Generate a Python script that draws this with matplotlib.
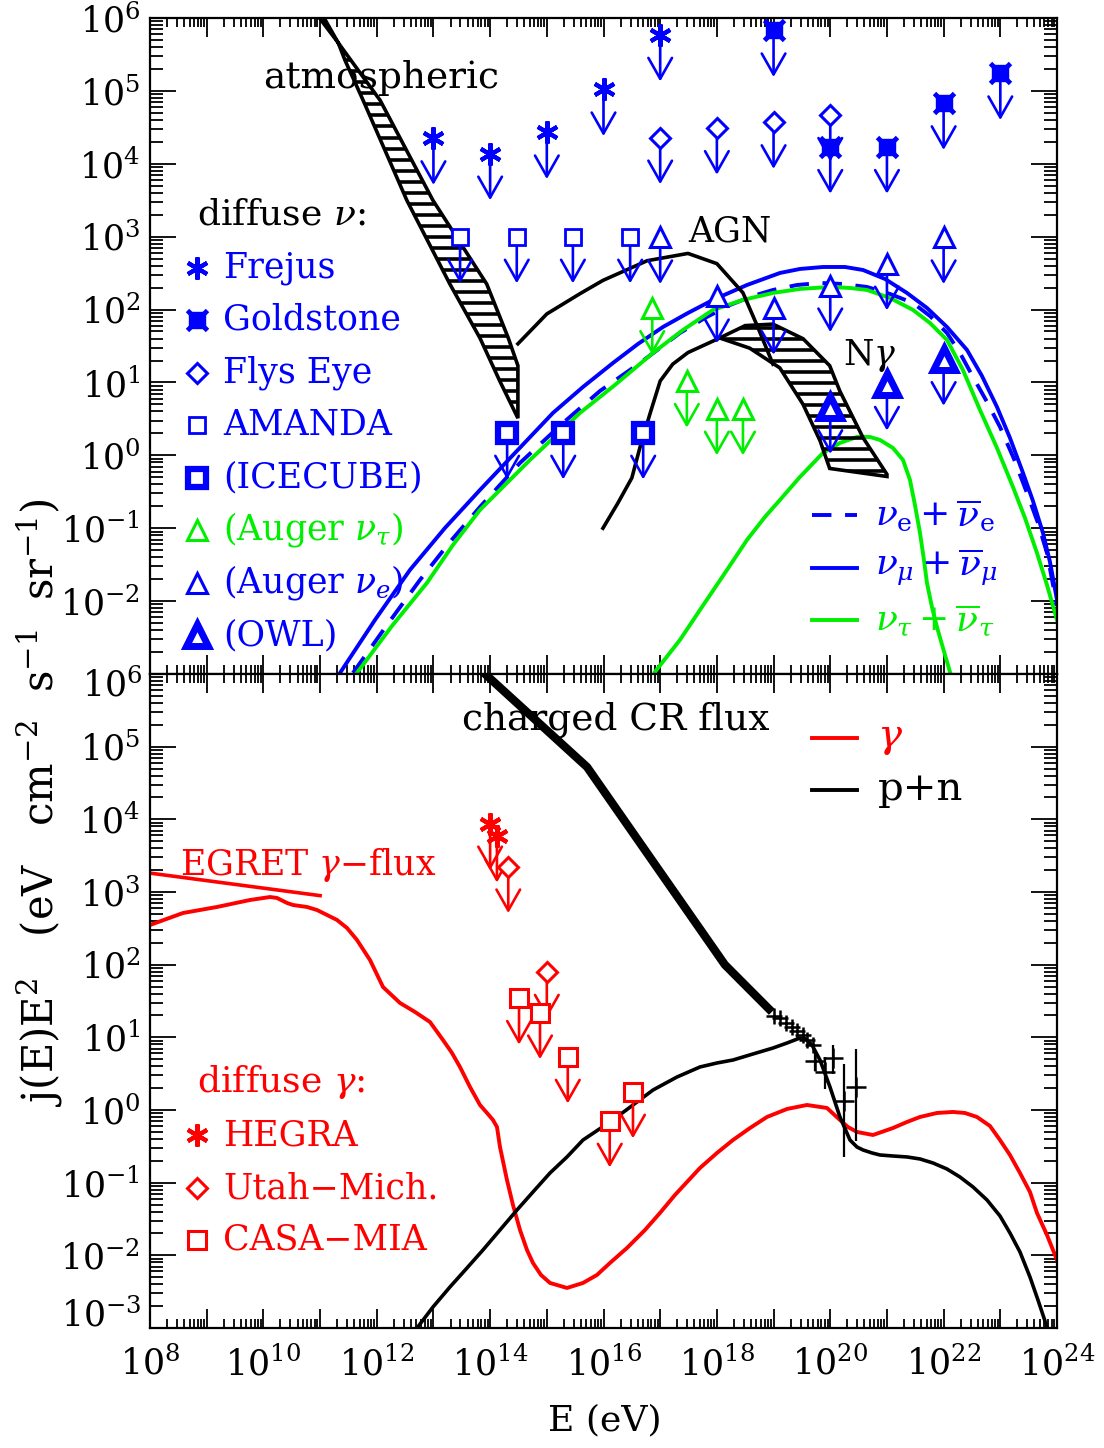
import numpy as np
import matplotlib
matplotlib.use('Agg')
import matplotlib.pyplot as plt
from matplotlib.patches import Polygon
from matplotlib.ticker import FixedLocator, LogLocator, FuncFormatter, NullFormatter

plt.rcParams['font.family'] = ['DejaVu Serif']
plt.rcParams['mathtext.fontset'] = 'dejavuserif'

BLUE, GREEN, RED = '#0000ff', '#00ee00', '#ff0000'

# ---------------- top panel: diffuse neutrinos (log10 E/eV, log10 flux) ----------------
atm_a_logE = [11.05, 11.32, 11.44, 11.76, 12.53, 13.29, 13.82, 14.17, 14.49]
atm_a_logF = [6.03, 5.66, 5.42, 4.87, 3.50, 2.35, 1.61, 1.02, 0.51]
atm_b_logE = [10.96, 11.32, 12.06, 12.99, 13.94, 14.32, 14.49, 14.49]
atm_b_logF = [6.03, 5.66, 4.87, 3.50, 2.35, 1.61, 1.23, 0.51]

agn_logE = [14.49, 15.00, 15.59, 15.99, 16.77, 17.49, 18.00, 18.46, 18.71, 18.99]
agn_logF = [1.53, 1.94, 2.22, 2.40, 2.67, 2.77, 2.63, 2.23, 1.78, 1.25]

ngam_logE = [15.99, 16.25, 16.50, 16.64, 16.82, 17.00, 17.22, 17.49, 18.05]
ngam_logF = [-1.00, -0.66, -0.31, 0.10, 0.57, 1.02, 1.25, 1.41, 1.61]
ngam_hi_logE = [18.05, 18.50, 18.99, 19.52, 19.99, 20.17, 20.58, 21.00]
ngam_hi_logF = [1.61, 1.78, 1.80, 1.60, 1.23, 0.88, 0.24, -0.26]
ngam_lo_logE = [18.05, 18.58, 19.11, 19.52, 19.82, 19.99, 21.00]
ngam_lo_logF = [1.61, 1.47, 1.20, 0.70, 0.20, -0.18, -0.29]

numu_logE = [11.352, 11.969, 12.586, 13.204, 13.821, 14.439, 15.109, 15.638, 16.167, 16.608,
             17.049, 17.490, 17.931, 18.531, 19.113, 19.466, 19.872, 20.260, 20.577, 20.965,
             21.353, 21.706, 22.059, 22.412, 22.676, 22.941, 23.170, 23.400, 23.576, 23.752,
             23.876, 24.0]
numu_logF = [-2.985, -2.258, -1.572, -0.996, -0.475, 0.033, 0.582, 0.938, 1.267, 1.528,
             1.761, 1.953, 2.132, 2.337, 2.502, 2.557, 2.584, 2.584, 2.543, 2.420,
             2.228, 2.022, 1.761, 1.446, 1.089, 0.664, 0.239, -0.241, -0.626, -1.064,
             -1.462, -1.984]
nue_logE = [11.581, 12.181, 12.763, 13.292, 13.821, 14.527, 15.285, 15.938, 16.643, 17.349,
            17.790, 18.231, 18.637, 18.990, 19.413, 19.819, 20.224, 20.648, 21.054, 21.459,
            21.759, 22.059, 22.288, 22.518, 22.765, 22.994, 23.241, 23.470, 23.664, 23.823,
            24.0]
nue_logF = [-2.985, -2.327, -1.709, -1.188, -0.708, -0.104, 0.444, 0.883, 1.267, 1.679,
            1.885, 2.063, 2.187, 2.269, 2.337, 2.365, 2.351, 2.310, 2.214, 2.091,
            1.912, 1.679, 1.405, 1.075, 0.733, 0.390, -0.049, -0.516, -0.927, -1.339,
            -2.066]
nutau_logE = [11.651, 12.269, 12.886, 13.345, 13.821, 14.703, 15.585, 16.203, 16.873, 17.402,
              17.931, 18.460, 18.990, 19.466, 19.995, 20.348, 20.648, 21.054, 21.459, 21.759,
              22.059, 22.341, 22.641, 22.941, 23.223, 23.435, 23.647, 23.823, 24.0]
nutau_logF = [-2.985, -2.340, -1.750, -1.229, -0.749, -0.063, 0.582, 0.966, 1.405, 1.720,
              1.995, 2.132, 2.228, 2.283, 2.310, 2.296, 2.269, 2.159, 1.995, 1.816,
              1.583, 1.171, 0.623, 0.101, -0.434, -0.859, -1.339, -1.778, -2.258]
nutau2_logE = [16.908, 17.349, 17.702, 18.143, 18.531, 18.848, 19.113, 19.466, 19.872, 20.171,
               20.471, 20.701, 20.877, 21.106, 21.283, 21.406, 21.494, 21.583, 21.653, 21.706,
               21.794, 21.882, 21.988, 22.112]
nutau2_logF = [-2.971, -2.532, -2.121, -1.613, -1.161, -0.845, -0.612, -0.296, 0.033, 0.170,
               0.252, 0.252, 0.211, 0.101, -0.063, -0.337, -0.680, -1.064, -1.435, -1.750,
               -2.080, -2.354, -2.642, -2.971]

frejus_logE = [13, 14, 15, 16, 17]
frejus_logF = [4.35, 4.14, 4.43, 5.02, 5.77]
goldstone_logE = [19, 20, 21, 22, 23]
goldstone_logF = [5.83, 4.23, 4.23, 4.83, 5.24]
flyseye_logE = [17, 18, 19, 20]
flyseye_logF = [4.36, 4.49, 4.57, 4.67]
amanda_logE = [13.47, 14.47, 15.46, 16.47]
amanda_logF = [3.0, 3.0, 3.0, 3.0]
icecube_logE = [14.30, 15.29, 16.70]
icecube_logF = [0.31, 0.31, 0.31]
augtau_logE = [16.86, 17.47, 18.00, 18.46]
augtau_logF = [2.02, 1.02, 0.64, 0.64]
auge_logE = [17, 18, 19, 20, 21, 22]
auge_logF = [2.99, 2.18, 2.02, 2.33, 2.63, 2.99]
owl_logE = [20, 21, 22]
owl_logF = [0.66, 0.98, 1.32]

# ---------------- bottom panel: gamma and nucleon fluxes ----------------
cr_logE = [13.87, 15.71, 18.14, 18.97]
cr_logF = [6.03, 4.72, 2.00, 1.35]

pn_logE = [12.710, 12.992, 13.292, 13.592, 13.874, 14.174, 14.474, 14.756, 15.056, 15.356,
           15.638, 15.903, 16.167, 16.520, 16.873, 17.296, 17.702, 18.002, 18.284, 18.637,
           18.990, 19.237, 19.466, 19.572, 19.678, 19.819, 19.995, 20.171, 20.348, 20.471,
           20.577, 20.736, 20.877, 21.106, 21.353, 21.583, 21.812, 22.059, 22.288, 22.518,
           22.765, 22.994, 23.170, 23.347, 23.523, 23.664, 23.823]
pn_logF = [-3.0, -2.711, -2.435, -2.174, -1.926, -1.651, -1.376, -1.128, -0.867, -0.646,
           -0.413, -0.275, -0.137, 0.069, 0.275, 0.454, 0.592, 0.647, 0.688, 0.771,
           0.853, 0.922, 0.991, 0.977, 0.895, 0.688, 0.317, -0.096, -0.413, -0.509,
           -0.550, -0.591, -0.619, -0.633, -0.646, -0.674, -0.729, -0.812, -0.922, -1.059,
           -1.238, -1.458, -1.692, -1.954, -2.298, -2.614, -2.986]

gam_logE = [8.000, 8.582, 9.182, 9.764, 10.117, 10.240, 10.417, 10.523, 10.769, 10.946,
            11.122, 11.299, 11.475, 11.651, 11.881, 12.110, 12.410, 12.675, 12.939, 13.168,
            13.327, 13.468, 13.645, 13.821, 13.945, 14.050, 14.121, 14.174, 14.297, 14.403,
            14.527, 14.650, 14.756, 14.897, 15.056, 15.356, 15.638, 15.885, 16.114, 16.414,
            16.732, 16.996, 17.261, 17.702, 18.002, 18.284, 18.584, 18.884, 19.237, 19.589,
            19.942, 20.171, 20.312, 20.471, 20.754, 21.106, 21.353, 21.583, 21.882, 22.165,
            22.376, 22.588, 22.818, 22.994, 23.170, 23.347, 23.523, 23.647, 23.823, 24.0]
gam_logF = [2.546, 2.711, 2.794, 2.890, 2.931, 2.918, 2.849, 2.821, 2.794, 2.752,
            2.684, 2.615, 2.505, 2.340, 2.064, 1.693, 1.473, 1.349, 1.211, 0.964,
            0.785, 0.592, 0.317, 0.069, -0.041, -0.137, -0.234, -0.509, -0.963, -1.307,
            -1.651, -1.926, -2.105, -2.270, -2.380, -2.449, -2.380, -2.270, -2.105, -1.899,
            -1.651, -1.417, -1.169, -0.798, -0.591, -0.413, -0.248, -0.096, 0.014, 0.069,
            0.028, -0.137, -0.234, -0.302, -0.344, -0.248, -0.165, -0.096, -0.041, -0.027,
            -0.041, -0.096, -0.220, -0.413, -0.619, -0.867, -1.128, -1.417, -1.720, -2.064]

egret_logE = [8.0, 11.0]
egret_logF = [3.26, 2.95]

hegra_logE = [14.0, 14.12]
hegra_logF = [3.94, 3.77]
utah_logE = [14.32, 15.0]
utah_logF = [3.35, 1.90]
casa_logE = [14.51, 14.88, 15.37, 16.11, 16.52]
casa_logF = [1.54, 1.34, 0.73, -0.15, 0.25]

crdata_small_logE = [19.01, 19.11, 19.22, 19.32, 19.41, 19.52, 19.59, 19.70]
crdata_small_logF = [1.30, 1.26, 1.20, 1.14, 1.09, 1.03, 0.97, 0.90]
crdata_logE = [19.73, 19.91, 20.05, 20.24, 20.45]
crdata_logF = [0.68, 0.52, 0.72, 0.12, 0.32]
crdata_up = [0.14, 0.21, 0.18, 0.51, 0.52]
crdata_dn = [0.14, 0.23, 0.22, 0.76, 0.74]

ARROW = 0.64  # length of the upper-limit arrows, decades


def p10(a):
    return 10.0 ** np.asarray(a, dtype=float)


def band(ax, xa, ya, xb, yb, step=0.151):
    xs = np.concatenate([xa, xb[::-1]])
    ys = np.concatenate([ya, yb[::-1]])
    poly = Polygon(np.column_stack([p10(xs), p10(ys)]), closed=True, fill=False,
                   ec='k', lw=2.6, zorder=3)
    ax.add_patch(poly)
    for ly in np.arange(min(ys) + step / 2, max(ys), step):
        ln, = ax.plot(p10([min(xs), max(xs)]), p10([ly, ly]), color='k', lw=2.6, zorder=3)
        ln.set_clip_path(poly)


def limits(ax, lx, ly, color):
    for x, y in zip(lx, ly):
        ax.annotate('', xy=(10.0 ** x, 10.0 ** (y - ARROW)), xytext=(10.0 ** x, 10.0 ** y),
                    arrowprops=dict(arrowstyle='->,head_length=15,head_width=8.5',
                                    mutation_scale=1, color=color, lw=1.9,
                                    shrinkA=0, shrinkB=0), zorder=4)


def mark(ax, lx, ly, style):
    ax.plot(p10(lx), p10(ly), ls='none', zorder=5, **style)


sty_frejus = dict(marker=(6, 2, 0), ms=16, mew=3, color=BLUE)
sty_gold = dict(marker='s', ms=12, mew=1, color=BLUE)
sty_gold_x = dict(marker='x', ms=15, mew=3.5, color=BLUE)
sty_fly = dict(marker='D', ms=10, mew=2.2, color=BLUE, mfc='white')
sty_amanda = dict(marker='s', ms=11.5, mew=2.0, color=BLUE, mfc='white')
sty_ice = dict(marker='s', ms=13, mew=4.5, color=BLUE, mfc='white')
sty_augtau = dict(marker='^', ms=14, mew=2.2, color=GREEN, mfc='white')
sty_auge = dict(marker='^', ms=14, mew=2.2, color=BLUE, mfc='white')
sty_owl = dict(marker='^', ms=16, mew=5, color=BLUE, mfc='white')
sty_hegra = dict(marker=(6, 2, 0), ms=16, mew=3, color=RED)
sty_utah = dict(marker='D', ms=10, mew=2.2, color=RED, mfc='white')
sty_casa = dict(marker='s', ms=13, mew=2.2, color=RED, mfc='white')

fig = plt.figure(figsize=(11.04, 14.48), dpi=100)
L, W = 150 / 1104, 907 / 1104
ax1 = fig.add_axes([L, 1 - 674 / 1448, W, 656 / 1448])
ax2 = fig.add_axes([L, 1 - 1328 / 1448, W, 654 / 1448])

TICKFS = 25
for ax in (ax1, ax2):
    ax.set_xscale('log')
    ax.set_yscale('log')
    ax.set_xlim(1e8, 1e24)
    ax.set_ylim(1e-3, 1e6)
    ax.xaxis.set_major_locator(FixedLocator(10.0 ** np.arange(8, 25)))
    ax.xaxis.set_minor_locator(LogLocator(base=10, subs=np.arange(2, 10), numticks=100))
    ax.yaxis.set_major_locator(FixedLocator(10.0 ** np.arange(-3, 7)))
    ax.yaxis.set_minor_locator(LogLocator(base=10, subs=np.arange(2, 10), numticks=100))
    ax.xaxis.set_minor_formatter(NullFormatter())
    ax.yaxis.set_minor_formatter(NullFormatter())
    ax.tick_params(which='both', direction='in', top=True, right=True, width=1.3,
                   labelsize=TICKFS)
    ax.tick_params(axis='y', which='major', length=19, pad=7)
    ax.tick_params(axis='y', which='minor', length=9.5)
    ax.tick_params(axis='x', which='major', length=14, pad=13)
    ax.tick_params(axis='x', which='minor', length=6.5)
    for s in ax.spines.values():
        s.set_linewidth(1.6)


def yfmt(shown):
    def f(v, p):
        n = int(round(np.log10(v)))
        return r'$10^{%d}$' % n if n in shown else ''
    return FuncFormatter(f)


ax1.yaxis.set_major_formatter(yfmt(range(-2, 7)))
ax2.yaxis.set_major_formatter(yfmt(range(-2, 6)))
ax1.xaxis.set_major_formatter(NullFormatter())
ax2.xaxis.set_major_formatter(FuncFormatter(
    lambda v, p: r'$10^{%d}$' % round(np.log10(v)) if round(np.log10(v)) % 2 == 0 else ''))
fig.text(142 / 1104, 1 - 686 / 1448, r'$10^{6}$', ha='right', va='center', fontsize=TICKFS)
fig.text(142 / 1104, 1 - 1316 / 1448, r'$10^{-3}$', ha='right', va='center', fontsize=TICKFS)

# ---- top panel drawing ----
band(ax1, atm_a_logE, atm_a_logF, atm_b_logE, atm_b_logF)
band(ax1, ngam_hi_logE, ngam_hi_logF, ngam_lo_logE, ngam_lo_logF)
ax1.plot(p10(agn_logE), p10(agn_logF), color='k', lw=2.6, zorder=3)
ax1.plot(p10(ngam_logE), p10(ngam_logF), color='k', lw=2.6, zorder=3)
ax1.plot(p10(numu_logE), p10(numu_logF), color=BLUE, lw=2.8, zorder=2)
ax1.plot(p10(nue_logE), p10(nue_logF), color=BLUE, lw=2.8, ls=(0, (5, 3.5)), zorder=2)
ax1.plot(p10(nutau_logE), p10(nutau_logF), color=GREEN, lw=2.8, zorder=2)
ax1.plot(p10(nutau2_logE), p10(nutau2_logF), color=GREEN, lw=2.8, zorder=2)

for lx, ly, col in [(frejus_logE, frejus_logF, BLUE), (goldstone_logE, goldstone_logF, BLUE),
                    (flyseye_logE, flyseye_logF, BLUE), (amanda_logE, amanda_logF, BLUE),
                    (icecube_logE, icecube_logF, BLUE), (augtau_logE, augtau_logF, GREEN),
                    (auge_logE, auge_logF, BLUE), (owl_logE, owl_logF, BLUE)]:
    limits(ax1, lx, ly, col)
mark(ax1, frejus_logE, frejus_logF, sty_frejus)
mark(ax1, goldstone_logE, goldstone_logF, sty_gold)
mark(ax1, goldstone_logE, goldstone_logF, sty_gold_x)
mark(ax1, flyseye_logE, flyseye_logF, sty_fly)
mark(ax1, amanda_logE, amanda_logF, sty_amanda)
mark(ax1, icecube_logE, icecube_logF, sty_ice)
mark(ax1, augtau_logE, augtau_logF, sty_augtau)
mark(ax1, auge_logE, auge_logF, sty_auge)
mark(ax1, owl_logE, owl_logF, sty_owl)

FS = 25
t1 = ax1.transAxes
ax1.text(0.1246, 0.909, 'atmospheric', fontsize=FS + 2, va='center', transform=t1)
ax1.text(0.593, 0.674, 'AGN', fontsize=FS, va='center', transform=t1)
ax1.text(0.764, 0.486, r'N$\gamma$', fontsize=FS, va='center', transform=t1)
ax1.text(0.052, 0.700, r'diffuse $\nu$:', fontsize=FS + 1, va='center', transform=t1)

nu_legend = [
    ('Frejus', BLUE, [sty_frejus], 0.619),
    ('Goldstone', BLUE, [sty_gold, sty_gold_x], 0.540),
    ('Flys Eye', BLUE, [sty_fly], 0.459),
    ('AMANDA', BLUE, [sty_amanda], 0.380),
    ('(ICECUBE)', BLUE, [sty_ice], 0.299),
    (r'(Auger $\nu_\tau$)', GREEN, [sty_augtau], 0.220),
    (r'(Auger $\nu_e$)', BLUE, [sty_auge], 0.139),
    ('(OWL)', BLUE, [sty_owl], 0.059),
]
for label, col, stys, yy in nu_legend:
    for st in stys:
        ax1.plot([0.052], [yy], transform=t1, ls='none', zorder=6, **st)
    ax1.text(0.0805, yy, label, color=col, fontsize=FS, va='center', transform=t1)

flav_legend = [
    (r'$\nu_{\rm e}+\overline{\nu}_{\rm e}$', BLUE, (0, (5, 3.5)), 0.242),
    (r'$\nu_\mu+\overline{\nu}_\mu$', BLUE, '-', 0.162),
    (r'$\nu_\tau+\overline{\nu}_\tau$', GREEN, '-', 0.082),
]
for label, col, ls, yy in flav_legend:
    ax1.plot([0.730, 0.779], [yy, yy], transform=t1, color=col, lw=2.8, ls=ls)
    ax1.text(0.799, yy, label, color=col, fontsize=FS + 1, va='center', transform=t1)

# ---- bottom panel drawing ----
ax2.plot(p10(cr_logE), p10(cr_logF), color='k', lw=6, zorder=3, solid_capstyle='butt')
ax2.plot(p10(pn_logE), p10(pn_logF), color='k', lw=2.6, zorder=3)
ax2.plot(p10(gam_logE), p10(gam_logF), color=RED, lw=2.8, zorder=2)
ax2.plot(p10(egret_logE), p10(egret_logF), color=RED, lw=2.6, zorder=2)

x_s, y_s = p10(crdata_small_logE), p10(crdata_small_logF)
ax2.plot(x_s, y_s, ls='none', marker='+', ms=11, mew=1.8, color='k', zorder=4)
x_b, y_b = p10(crdata_logE), p10(crdata_logF)
yerr = [y_b - p10(np.array(crdata_logF) - np.array(crdata_dn)),
        p10(np.array(crdata_logF) + np.array(crdata_up)) - y_b]
ax2.errorbar(x_b, y_b, yerr=yerr, fmt='none', ecolor='k', elinewidth=1.6, capsize=0,
             zorder=4)
ax2.plot(x_b, y_b, ls='none', marker='+', ms=14, mew=1.8, color='k', zorder=4)

for lx, ly in [(hegra_logE, hegra_logF), (utah_logE, utah_logF), (casa_logE, casa_logF)]:
    limits(ax2, lx, ly, RED)
mark(ax2, hegra_logE, hegra_logF, sty_hegra)
mark(ax2, utah_logE, utah_logF, sty_utah)
mark(ax2, casa_logE, casa_logF, sty_casa)

t2 = ax2.transAxes
ax2.text(0.344, 0.930, 'charged CR flux', fontsize=FS + 2, va='center', transform=t2)
ax2.text(0.033, 0.708, r'EGRET $\gamma$−flux', color=RED, fontsize=FS, va='center',
         transform=t2)
ax2.text(0.052, 0.376, r'diffuse $\gamma$:', color=RED, fontsize=FS + 1, va='center',
         transform=t2)
ax2.plot([0.730, 0.779], [0.902, 0.902], transform=t2, color=RED, lw=2.8)
ax2.text(0.802, 0.902, r'$\gamma$', color=RED, fontsize=29, va='center', transform=t2)
ax2.plot([0.730, 0.779], [0.823, 0.823], transform=t2, color='k', lw=2.8)
ax2.text(0.802, 0.823, 'p+n', fontsize=29, va='center', transform=t2)

gam_legend = [('HEGRA', sty_hegra, 0.295), ('Utah−Mich.', sty_utah, 0.214),
              ('CASA−MIA', sty_casa, 0.135)]
for label, st, yy in gam_legend:
    ax2.plot([0.052], [yy], transform=t2, ls='none', **st)
    ax2.text(0.0805, yy, label, color=RED, fontsize=FS, va='center', transform=t2)

fig.text(40 / 1104, 1 - 802 / 1448,
         r'j(E)E$^{2}$   (eV   cm$^{-2}$  s$^{-1}$  sr$^{-1}$)', rotation=90, ha='center',
         va='center', fontsize=30)
fig.text(605 / 1104, 1 - 1420 / 1448, 'E (eV)', ha='center', va='center', fontsize=26)

fig.savefig('out.png', dpi=100)
